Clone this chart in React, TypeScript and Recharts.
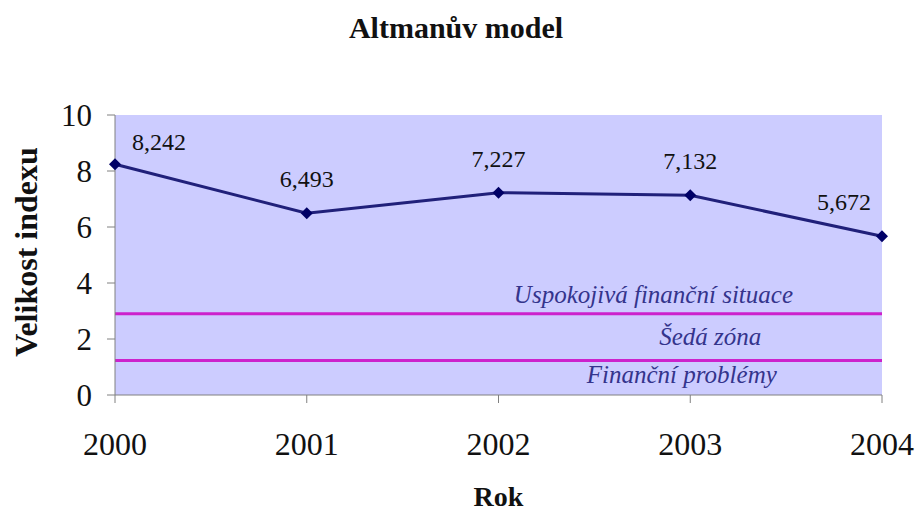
import React from 'react';
import {
  LineChart,
  Line,
  XAxis,
  YAxis,
  CartesianGrid,
  ReferenceLine,
  ReferenceArea,
} from 'recharts';

const years = ['2000', '2001', '2002', '2003', '2004'];
const indexValues = [8.242, 6.493, 7.227, 7.132, 5.672];
const yTicks = [0, 2, 4, 6, 8, 10];
const thresholds = [2.9, 1.23];
const zoneNames = ['Uspokojivá finanční situace', 'Šedá zóna', 'Finanční problémy'];

const data = years.map((rok, i) => ({ rok, index: indexValues[i] }));

const SERIF = 'Liberation Serif';
const LINE_COLOR = '#20207a';
const ZONE_COLOR = '#34348c';

function SerifText({ x, y, children, anchor = 'middle', size, weight = 'normal', italic = false, fill = '#111' }: any) {
  return (
    <text
      x={x}
      y={y}
      textAnchor={anchor}
      fill={fill}
      fontFamily={SERIF}
      fontSize={size}
      fontWeight={weight}
      fontStyle={italic ? 'italic' : 'normal'}
    >
      {children}
    </text>
  );
}

const fmt = (v: number) => v.toFixed(3).replace('.', ',');

function XTick({ x, y, payload }: any) {
  return (
    <SerifText x={x} y={y + 50} size={32}>
      {payload.value}
    </SerifText>
  );
}

function YTick({ x, y, payload }: any) {
  return (
    <SerifText x={x - 13} y={y + 11} anchor="end" size={31}>
      {payload.value}
    </SerifText>
  );
}

function Diamond({ cx, cy, index }: any) {
  const r = 6;
  return (
    <polygon
      key={index}
      points={`${cx},${cy - r} ${cx + r},${cy} ${cx},${cy + r} ${cx - r},${cy}`}
      fill="#000066"
    />
  );
}

function ValueLabel({ x, y, value, index }: any) {
  let dx = 0;
  let dy = -26;
  if (index === 0) {
    dx = 44;
    dy = -14;
  } else if (index === years.length - 1) {
    dx = -38;
  }
  return (
    <SerifText x={x + dx} y={y + dy} size={24}>
      {fmt(value)}
    </SerifText>
  );
}

export default function App() {
  return (
    <div style={{ position: 'absolute', left: 0, top: 0, width: 915, height: 514, background: '#fff' }}>
      <LineChart width={915} height={514} data={data} margin={{ top: 115, right: 33, left: 0, bottom: 0 }}>
        <CartesianGrid horizontal={false} vertical={false} fill="#CCCCFF" />
        <XAxis
          dataKey="rok"
          height={119}
          stroke="#808080"
          tickSize={8}
          tick={<XTick />}
          label={{
            content: ({ viewBox }: any) => (
              <SerifText x={viewBox.x + viewBox.width / 2} y={viewBox.y + 111} size={28} weight="bold">
                Rok
              </SerifText>
            ),
          }}
        />
        <YAxis
          width={115}
          domain={[0, 10]}
          ticks={yTicks}
          stroke="#808080"
          tickSize={8}
          tick={<YTick />}
          label={{
            content: ({ viewBox }: any) => {
              const cx = 37;
              const cy = viewBox.y + viewBox.height / 2 - 3;
              return (
                <text
                  x={cx}
                  y={cy}
                  transform={`rotate(-90, ${cx}, ${cy})`}
                  textAnchor="middle"
                  fill="#111"
                  fontFamily={SERIF}
                  fontSize={32}
                  fontWeight="bold"
                >
                  Velikost indexu
                </text>
              );
            },
          }}
        />
        <ReferenceArea
          y1={thresholds[1]}
          y2={thresholds[0]}
          fill="none"
          stroke="none"
          label={{
            content: ({ viewBox }: any) => (
              <SerifText
                x={viewBox.x + viewBox.width * 0.776}
                y={viewBox.y + viewBox.height / 2 + 8}
                size={25}
                italic
                fill={ZONE_COLOR}
              >
                {zoneNames[1]}
              </SerifText>
            ),
          }}
        />
        <ReferenceArea
          y1={0}
          y2={thresholds[1]}
          fill="none"
          stroke="none"
          label={{
            content: ({ viewBox }: any) => (
              <SerifText
                x={viewBox.x + viewBox.width * 0.739}
                y={viewBox.y + viewBox.height / 2 + 5}
                size={25}
                italic
                fill={ZONE_COLOR}
              >
                {zoneNames[2]}
              </SerifText>
            ),
          }}
        />
        <ReferenceLine
          y={thresholds[0]}
          stroke="#cc22cc"
          strokeWidth={3}
          label={{
            content: ({ viewBox }: any) => (
              <SerifText
                x={viewBox.x + viewBox.width * 0.702}
                y={viewBox.y - 11}
                size={25}
                italic
                fill={ZONE_COLOR}
              >
                {zoneNames[0]}
              </SerifText>
            ),
          }}
        />
        <ReferenceLine y={thresholds[1]} stroke="#cc22cc" strokeWidth={3} />
        <Line
          type="linear"
          dataKey="index"
          stroke={LINE_COLOR}
          strokeWidth={3}
          dot={<Diamond />}
          activeDot={false}
          label={<ValueLabel />}
          isAnimationActive={false}
        />
        <text x={456} y={38} textAnchor="middle" fontFamily={SERIF} fontSize={30} fontWeight="bold" fill="#111">
          Altmanův model
        </text>
      </LineChart>
    </div>
  );
}
